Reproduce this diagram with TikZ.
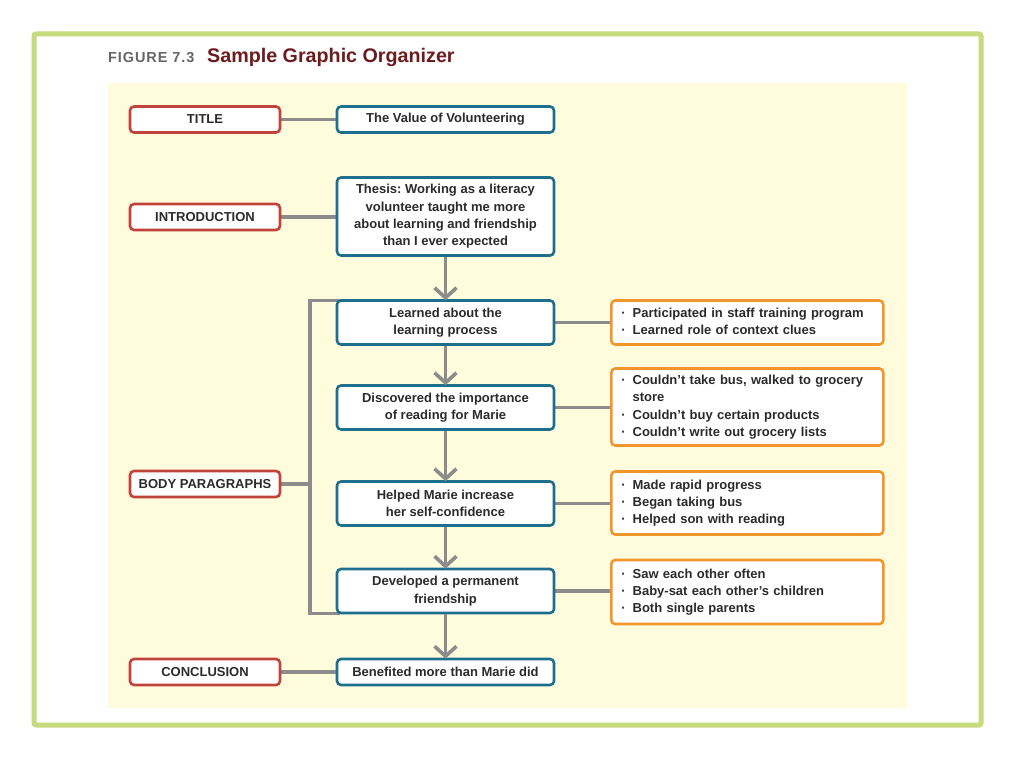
\documentclass[tikz,border=0pt]{standalone}
\usepackage{fontspec}
\setmainfont{Liberation Sans}
\usetikzlibrary{arrows.meta}
\definecolor{frameg}{HTML}{C6DA7E}
\definecolor{panel}{HTML}{FEFCDC}
\definecolor{redb}{HTML}{C2433B}
\definecolor{blueb}{HTML}{1E6E8E}
\definecolor{orangeb}{HTML}{F0962C}
\definecolor{conn}{HTML}{8C8C8C}
\definecolor{txt}{HTML}{2B2B2B}
\definecolor{figgray}{HTML}{666666}
\definecolor{titred}{HTML}{6C1B1E}
\pgfdeclarelayer{bg}
\pgfdeclarelayer{lines}
\pgfsetlayers{bg,lines,main}
\tikzset{
  box/.style={draw, line width=2.6pt, rounded corners=4pt, fill=white, inner sep=0pt,
    text=txt, font=\fontsize{13}{17.3}\selectfont\bfseries\frenchspacing, align=center},
  redbox/.style={box, draw=redb, minimum width=150pt, minimum height=26pt},
  bluebox/.style={box, draw=blueb, minimum width=217pt},
  orangebox/.style={box, draw=orangeb, minimum width=272pt, text width=272pt, align=left, anchor=west},
  line/.style={draw=conn, line width=3.6pt},
  arr/.style={line, -{Straight Barb[length=10pt,width=22pt]}, shorten >=-1pt},
}
\newcommand{\bl}{\textcolor{txt}{·}}
\newcommand{\blist}[1]{\begin{tabular}{@{\hspace{10pt}}l@{\hspace{7pt}}l@{}}#1\end{tabular}}
\begin{document}
\begin{tikzpicture}[x=1pt,y=-1pt]
\useasboundingbox (0,0) rectangle (1024,768);
\begin{pgfonlayer}{bg}
\fill[white] (0,0) rectangle (1024,768);
\draw[frameg, line width=5pt, rounded corners=2pt] (34,34) rectangle (981,725);
\fill[panel] (108,83) rectangle (907,708);
\end{pgfonlayer}
\node[anchor=base west, inner sep=0pt, text=figgray, font=\fontsize{14.5}{14.5}\selectfont\bfseries] (fig) at (108,63) {F\kern0.9pt I\kern0.9pt G\kern0.9pt U\kern0.9pt R\kern0.9pt E\kern5pt 7\kern0.9pt .\kern0.9pt 3};
\node[anchor=base west, inner sep=0pt, text=titred, font=\fontsize{19.7}{19.7}\selectfont\bfseries] (ttl) at (207,63) {Sample Graphic Organizer};
% red labels
\node[redbox] (rt) at (205,119.5) {TITLE};
\node[redbox] (ri) at (205,217) {INTRODUCTION};
\node[redbox] (rb) at (205,484) {BODY PARAGRAPHS};
\node[redbox] (rc) at (205,672) {CONCLUSION};
% blue boxes
\node[bluebox, minimum height=26pt] (b0) at (445.5,119.5) {The Value of Volunteering};
\node[bluebox, minimum height=78pt] (b1) at (445.5,216.5) {Thesis: Working as a literacy\\volunteer taught me more\\about learning and friendship\\than I ever expected};
\node[bluebox, minimum height=44pt] (b2) at (445.5,322.5) {Learned about the\\learning process};
\node[bluebox, minimum height=44pt] (b3) at (445.5,407.5) {Discovered the importance\\of reading for Marie};
\node[bluebox, minimum height=44pt] (b4) at (445.5,503.5) {Helped Marie increase\\her self-confidence};
\node[bluebox, minimum height=44pt] (b5) at (445.5,591) {Developed a permanent\\friendship};
\node[bluebox, minimum height=26pt] (b6) at (445.5,672) {Benefited more than Marie did};
% orange boxes
\node[orangebox, minimum height=44pt] (o1) at (610,322.5) {\blist{\bl & Participated in staff training program\\ \bl & Learned role of context clues}};
\node[orangebox, minimum height=77pt] (o2) at (610,407) {\blist{\bl & Couldn’t take bus, walked to grocery\\ & store\\ \bl & Couldn’t buy certain products\\ \bl & Couldn’t write out grocery lists}};
\node[orangebox, minimum height=63pt] (o3) at (610,503) {\blist{\bl & Made rapid progress\\ \bl & Began taking bus\\ \bl & Helped son with reading}};
\node[orangebox, minimum height=64pt] (o4) at (610,592) {\blist{\bl & Saw each other often\\ \bl & Baby-sat each other’s children\\ \bl & Both single parents}};
% connectors
\begin{pgfonlayer}{lines}
\draw[line] (rt.east) -- (b0.west);
\draw[line] (ri.east) -- (ri.east -| b1.west);
\draw[line] (rc.east) -- (b6.west);
\coordinate (bt) at (310,300.5);
\coordinate (bb) at (310,613.5);
\draw[line] (rb.east) -- (rb.east -| bt);
\draw[line] ([xshift=4pt]b2.west |- bt) -- (bt) -- (bb) -- ([xshift=4pt]b5.west |- bb);
\draw[line] (b2.east) -- (b2.east -| o1.west);
\draw[line] (b3.east) -- (b3.east -| o2.west);
\draw[line] (b4.east) -- (b4.east -| o3.west);
\draw[line] (b5.east) -- (b5.east -| o4.west);
\end{pgfonlayer}
\draw[arr] (b1.south) -- (b2.north);
\draw[arr] (b2.south) -- (b3.north);
\draw[arr] (b3.south) -- (b4.north);
\draw[arr] (b4.south) -- (b5.north);
\draw[arr] (b5.south) -- (b6.north);
\end{tikzpicture}
\end{document}
